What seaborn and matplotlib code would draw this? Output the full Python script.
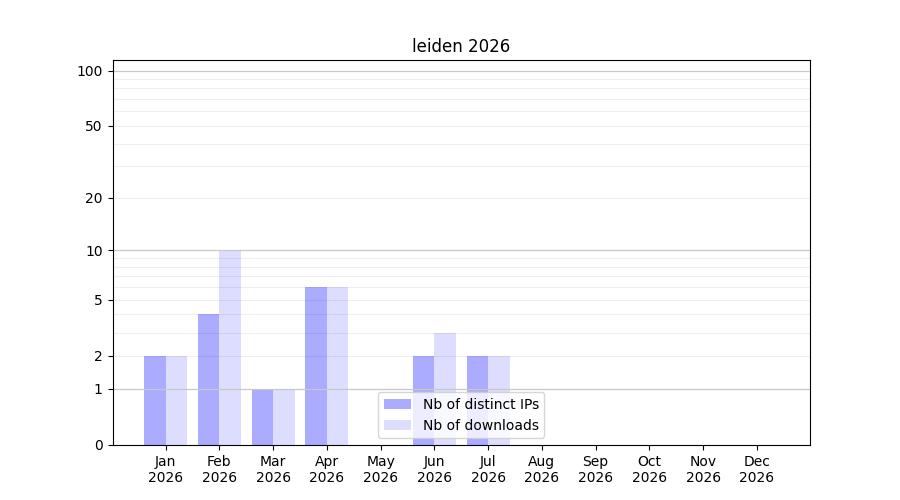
import numpy as np
import pandas as pd
import matplotlib
matplotlib.use("Agg")
import matplotlib.pyplot as plt
import seaborn as sns

# data
months = ['Jan', 'Feb', 'Mar', 'Apr', 'May', 'Jun', 'Jul', 'Aug', 'Sep', 'Oct', 'Nov', 'Dec']
year = 2026
distinct_ips = [2, 4, 1, 6, 0, 2, 2, 0, 0, 0, 0, 0]
downloads = [2, 10, 1, 6, 0, 3, 2, 0, 0, 0, 0, 0]

labels = [f"{m}\n{year}" for m in months]
df = pd.DataFrame({
    'month': labels * 2,
    'count': distinct_ips + downloads,
    'series': ['Nb of distinct IPs'] * 12 + ['Nb of downloads'] * 12,
})

fig, ax = plt.subplots(figsize=(9, 5), dpi=100)

sns.barplot(data=df, x='month', y='count', hue='series', order=labels,
            palette={'Nb of distinct IPs': 'blue', 'Nb of downloads': 'blue'},
            saturation=1, linewidth=0, width=0.8, ax=ax)

# alpha per series
alphas = {'Nb of distinct IPs': 0.33, 'Nb of downloads': 0.135}
for container, name in zip(ax.containers, ['Nb of distinct IPs', 'Nb of downloads']):
    for bar in container:
        bar.set_alpha(alphas[name])
        bar.set_zorder(1)

# log(1+x) scale
ax.set_yscale('function', functions=(lambda y: np.log10(1 + np.clip(y, -0.999, None)),
                                     lambda y: 10 ** y - 1))
ax.set_ylim(0, 114)
ax.set_xlim(-0.99, 11.99)

major = [0, 1, 2, 5, 10, 20, 50, 100]
minor = [3, 4, 6, 7, 8, 9, 30, 40, 60, 70, 80, 90]
ax.set_yticks(major)
ax.set_yticklabels([str(v) for v in major])
ax.set_yticks(minor, minor=True)
ax.tick_params(axis='y', which='minor', length=0)

for v in [2, 5, 20, 50] + minor:
    ax.axhline(v, color='#eeeeee', linewidth=0.8, zorder=0.5)
for v in [1, 10, 100]:
    ax.axhline(v, color='#c8c8c8', linewidth=0.9, zorder=2)

ax.set_xlabel('')
ax.set_ylabel('')
ax.set_title(f'leiden {year}')

handles, lbls = ax.get_legend_handles_labels()
for h, name in zip(handles, lbls):
    h.set_alpha(alphas[name])
ax.legend(handles, lbls, loc='lower center', title=None)

fig.subplots_adjust(left=0.125, right=0.9, top=0.88, bottom=0.11)
fig.savefig('out.png', dpi=100)
